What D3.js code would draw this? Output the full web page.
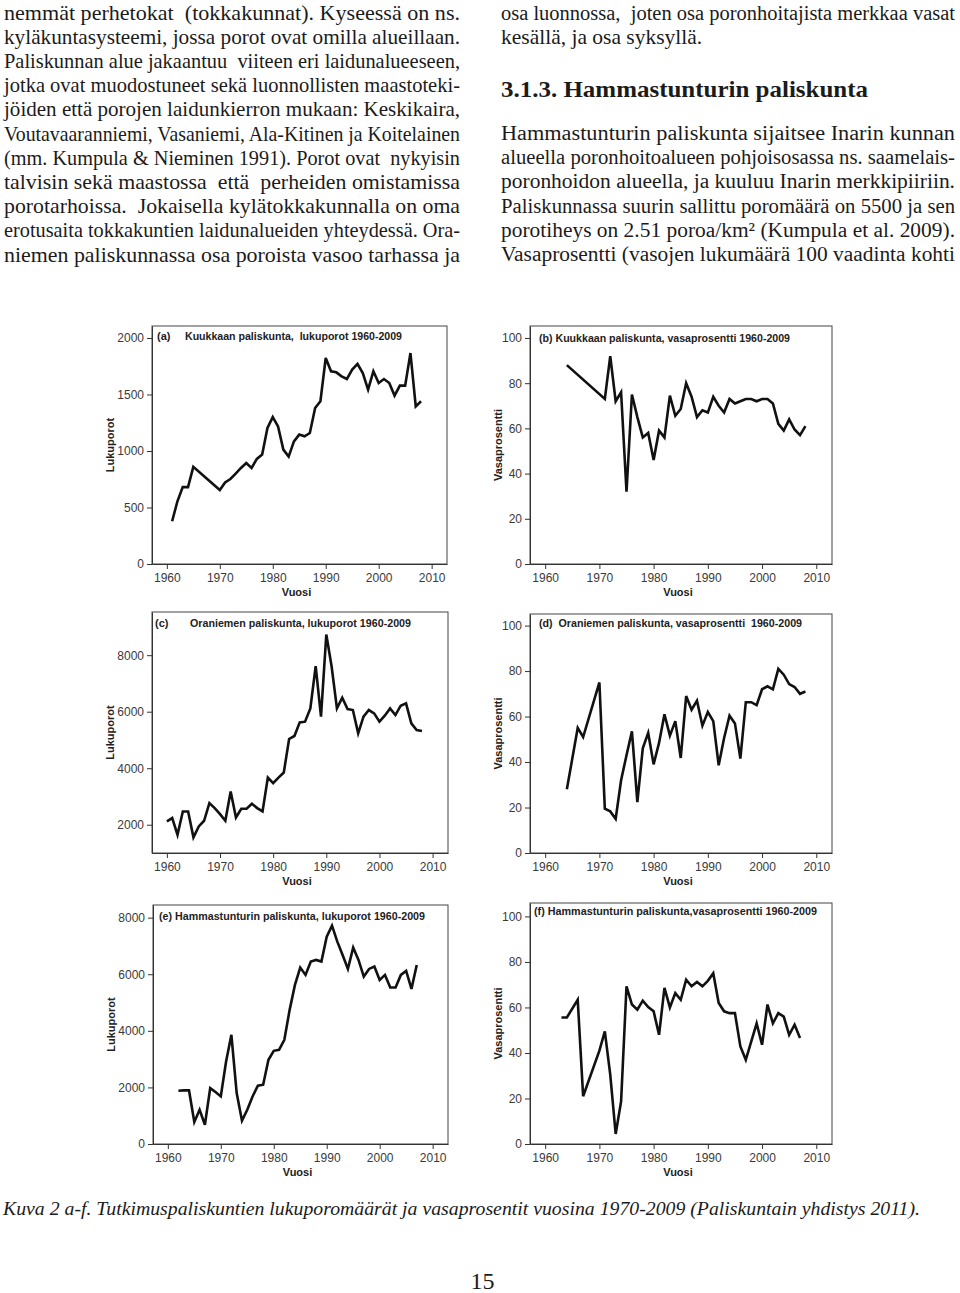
<!DOCTYPE html>
<html>
<head>
<meta charset="utf-8">
<script src="https://cdn.jsdelivr.net/npm/d3@7"></script>
<style>
  body { margin: 0; background: #fff; }
  svg { display: block; }
  .body-text { font-family: "Liberation Serif", "Times New Roman", serif; fill: #1b1b1b; white-space: pre; }
  .chart-text { font-family: "Liberation Sans", Arial, sans-serif; }
</style>
</head>
<body>
<svg id="page" width="960" height="1293"></svg>
<script>
// --- data ---
const yearsA = [1961,1962,1963,1964,1965,1970,1971,1972,1973,1974,1975,1976,1977,1978,1979,1980,1981,1982,1983,1984,1985,1986,1987,1988,1989,1990,1991,1992,1993,1994,1995,1996,1997,1998,1999,2000,2001,2002,2003,2004,2005,2006,2007,2008];
const lukuporotA = [378,555,680,680,860,655,722,752,800,850,894,850,930,968,1204,1300,1218,1012,950,1085,1145,1130,1159,1380,1440,1823,1705,1696,1661,1637,1720,1770,1690,1543,1705,1602,1637,1602,1490,1578,1578,1867,1395,1440];

const yearsB = [1964,1971,1972,1973,1974,1975,1976,1977,1978,1979,1980,1981,1982,1983,1984,1985,1986,1987,1988,1989,1990,1991,1992,1993,1994,1995,1996,1997,1998,1999,2000,2001,2002,2003,2004,2005,2006,2007,2008];
const vasaB = [88,73,92,72,76,32,75,65,56,58,46,59,56,74.5,65.6,68.6,80,74,65,68,67,74,70,67,73,71,72,73,73,72,73,73,71,62,59,64,59.5,57,61];

const yearsC = [1960,1961,1962,1963,1964,1965,1966,1967,1968,1969,1970,1971,1972,1973,1974,1975,1976,1977,1978,1979,1980,1981,1982,1983,1984,1985,1986,1987,1988,1989,1990,1991,1992,1993,1994,1995,1996,1997,1998,1999,2000,2001,2002,2003,2004,2005,2006,2007,2008];
const lukuporotC = [2118,2235,1647,2470,2470,1553,1941,2141,2765,2588,2376,2141,3176,2259,2565,2565,2741,2588,2470,3670,3470,3670,3847,5035,5141,5623,5647,6118,7612,5823,8729,7600,6118,6494,6094,6059,5235,5823,6059,5941,5647,5859,6118,5882,6212,6294,5588,5353,5318];

const yearsD = [1964,1966,1967,1970,1971,1972,1973,1974,1975,1976,1977,1978,1979,1980,1981,1982,1983,1984,1985,1986,1987,1988,1989,1990,1991,1992,1993,1994,1995,1996,1997,1998,1999,2000,2001,2002,2003,2004,2005,2006,2007,2008];
const vasaD = [28,55,51,75,19.5,18.3,15,32,43,53.5,22.4,46,52.8,39,48.4,61,51.6,58,41.8,69,63,67,56,62,58,38.6,50.6,60.4,57,41.5,66.3,66.3,65,72,73.3,72,81,78.4,74.3,73,70,71];

const yearsE = [1962,1963,1964,1965,1966,1967,1968,1969,1970,1971,1972,1973,1974,1975,1976,1977,1978,1979,1980,1981,1982,1983,1984,1985,1986,1987,1988,1989,1990,1991,1992,1993,1994,1995,1996,1997,1998,1999,2000,2001,2002,2003,2004,2005,2006,2007];
const lukuporotE = [1882,1894,1894,776,1212,682,1976,1835,1682,2918,3859,1800,824,1212,1682,2059,2094,2976,3294,3329,3682,4741,5624,6235,5976,6447,6506,6447,7329,7718,7153,6682,6188,6941,6506,5918,6188,6271,5800,5976,5529,5529,5976,6118,5482,6329];

const yearsF = [1963,1964,1966,1967,1970,1971,1972,1973,1974,1975,1976,1977,1978,1979,1980,1981,1982,1983,1984,1985,1986,1987,1988,1989,1990,1991,1992,1993,1994,1995,1996,1997,1998,1999,2000,2001,2002,2003,2004,2005,2006,2007];
const vasaF = [55.6,55.6,63.4,21,41,49.5,30.5,4.4,18.7,69.3,61.3,59,63,60.2,58.3,48,68.6,60,66.3,63.4,72.2,69.3,71.2,69.3,71.7,75,62,58.3,57.5,57.5,42.9,37,45,53,43.6,61.3,53,57.5,56,48,52.4,46.6];

const xTicks = [1960, 1970, 1980, 1990, 2000, 2010];
const yTicksKuukkaa = [0, 500, 1000, 1500, 2000];
const yTicksOraniemi = [2000, 4000, 6000, 8000];
const yTicksHammas = [0, 2000, 4000, 6000, 8000];
const yTicksPct = [0, 20, 40, 60, 80, 100];

const leftLines = [
  "nemmät perhetokat  (tokkakunnat). Kyseessä on ns.",
  "kyläkuntasysteemi, jossa porot ovat omilla alueillaan.",
  "Paliskunnan alue jakaantuu  viiteen eri laidunalueeseen,",
  "jotka ovat muodostuneet sekä luonnollisten maastoteki-",
  "jöiden että porojen laidunkierron mukaan: Keskikaira,",
  "Voutavaaranniemi, Vasaniemi, Ala-Kitinen ja Koitelainen",
  "(mm. Kumpula & Nieminen 1991). Porot ovat  nykyisin",
  "talvisin sekä maastossa  että  perheiden omistamissa",
  "porotarhoissa.  Jokaisella kylätokkakunnalla on oma",
  "erotusaita tokkakuntien laidunalueiden yhteydessä. Ora-",
  "niemen paliskunnassa osa poroista vasoo tarhassa ja"
];
const rightTop = [
  "osa luonnossa,  joten osa poronhoitajista merkkaa vasat",
  "kesällä, ja osa syksyllä."
];
const heading = "3.1.3. Hammastunturin paliskunta";
const rightLines = [
  "Hammastunturin paliskunta sijaitsee Inarin kunnan",
  "alueella poronhoitoalueen pohjoisosassa ns. saamelais-",
  "poronhoidon alueella, ja kuuluu Inarin merkkipiiriin.",
  "Paliskunnassa suurin sallittu poromäärä on 5500 ja sen",
  "porotiheys on 2.51 poroa/km² (Kumpula et al. 2009).",
  "Vasaprosentti (vasojen lukumäärä 100 vaadinta kohti"
];
const caption = "Kuva 2 a-f. Tutkimuspaliskuntien lukuporomäärät ja vasaprosentit vuosina 1970-2009 (Paliskuntain yhdistys 2011).";
const pageNumber = "15";

// --- layout ---
const svg = d3.select('#page');

// body text, justified with textLength
function textLine(str, x, y, width, size, extra) {
  const t = svg.append('text')
    .attr('class', 'body-text')
    .attr('x', x)
    .attr('y', y)
    .style('font-size', size + 'px')
    .text(str);
  if (width) t.attr('textLength', width).attr('lengthAdjust', 'spacingAndGlyphs');
  if (extra) extra(t);
  return t;
}

leftLines.forEach((s, i) => textLine(s, 4, 19.5 + i * 24.2, 456, 21));
textLine(rightTop[0], 501, 19.5, 454, 20.5);
textLine(rightTop[1], 501, 43.5, null, 21.5);
textLine(heading, 501, 97, 367, 23.5, t => t.style('font-weight', 'bold'));
rightLines.forEach((s, i) => textLine(s, 501, 140 + i * 24.2, 454, 20.5));
textLine(caption, 3, 1215, 917, 19.5, t => t.style('font-style', 'italic'));
textLine(pageNumber, 482.5, 1289, null, 24, t => t.attr('text-anchor', 'middle'));

// --- charts ---
const panels = [
  {years: yearsA, values: lukuporotA, yTicks: yTicksKuukkaa, yLabel: 'Lukuporot',
   left: 152, right: 447, top: 326, bottom: 564, yDomain: [0, 2106],
   tag: '(a)', tagX: 157, title: 'Kuukkaan paliskunta,  lukuporot 1960-2009', titleX: 185, titleW: 217, titleY: 340, yLabX: 114},
  {years: yearsB, values: vasaB, yTicks: yTicksPct, yLabel: 'Vasaprosentti',
   left: 530, right: 832, top: 326, bottom: 564, yDomain: [0, 105.3],
   title: '(b) Kuukkaan paliskunta, vasaprosentti 1960-2009', titleX: 539, titleW: 251, titleY: 342, yLabX: 502},
  {years: yearsC, values: lukuporotC, yTicks: yTicksOraniemi, yLabel: 'Lukuporot',
   left: 152, right: 448, top: 612, bottom: 853, yDomain: [1000, 9528],
   tag: '(c)', tagX: 155, title: 'Oraniemen paliskunta, lukuporot 1960-2009', titleX: 190, titleW: 221, titleY: 627, yLabX: 114},
  {years: yearsD, values: vasaD, yTicks: yTicksPct, yLabel: 'Vasaprosentti',
   left: 530, right: 832, top: 614, bottom: 853, yDomain: [0, 105.1],
   title: '(d)  Oraniemen paliskunta, vasaprosentti  1960-2009', titleX: 539, titleW: 263, titleY: 627, yLabX: 502},
  {years: yearsE, values: lukuporotE, yTicks: yTicksHammas, yLabel: 'Lukuporot',
   left: 153, right: 448, top: 905, bottom: 1144, yDomain: [0, 8447],
   title: '(e) Hammastunturin paliskunta, lukuporot 1960-2009', titleX: 159, titleW: 266, titleY: 920, yLabX: 115},
  {years: yearsF, values: vasaF, yTicks: yTicksPct, yLabel: 'Vasaprosentti',
   left: 530, right: 832, top: 903, bottom: 1144, yDomain: [0, 105.9],
   title: '(f) Hammastunturin paliskunta,vasaprosentti 1960-2009', titleX: 534, titleW: 283, titleY: 915, yLabX: 502}
];

panels.forEach(p => {
  const x = d3.scaleLinear().domain([1957.2, 2012.9]).range([p.left, p.right]);
  const y = d3.scaleLinear().domain(p.yDomain).range([p.bottom, p.top]);
  const g = svg.append('g').attr('class', 'chart-text');

  g.append('rect')
    .attr('x', p.left).attr('y', p.top)
    .attr('width', p.right - p.left).attr('height', p.bottom - p.top)
    .attr('fill', 'none').attr('stroke', '#444').attr('stroke-width', 1);

  const yAxis = g.append('g')
    .attr('transform', `translate(${p.left},0)`)
    .call(d3.axisLeft(y).tickValues(p.yTicks).tickFormat(d3.format('d')).tickSize(5).tickPadding(3).tickSizeOuter(0));
  const xAxis = g.append('g')
    .attr('transform', `translate(0,${p.bottom})`)
    .call(d3.axisBottom(x).tickValues(xTicks).tickFormat(d3.format('d')).tickSize(5).tickPadding(4).tickSizeOuter(0));
  [yAxis, xAxis].forEach(a => {
    a.select('.domain').attr('stroke', '#333');
    a.selectAll('.tick line').attr('stroke', '#333');
    a.selectAll('.tick text')
      .attr('fill', '#3a3a3a')
      .style('font-family', '"Liberation Sans", Arial, sans-serif')
      .style('font-size', '12px');
  });

  const pts = p.years.map((yr, i) => ({year: yr, value: p.values[i]}));
  g.append('path')
    .datum(pts)
    .attr('fill', 'none')
    .attr('stroke', '#111')
    .attr('stroke-width', 2.6)
    .attr('stroke-linejoin', 'miter')
    .attr('d', d3.line().x(d => x(d.year)).y(d => y(d.value)));

  if (p.tag) {
    g.append('text').attr('x', p.tagX).attr('y', p.titleY)
      .style('font-size', '11px').style('font-weight', 'bold').attr('fill', '#222')
      .text(p.tag);
  }
  g.append('text').attr('x', p.titleX).attr('y', p.titleY)
    .style('font-size', '11px').style('font-weight', 'bold').attr('fill', '#222')
    .style('white-space', 'pre')
    .attr('textLength', p.titleW).attr('lengthAdjust', 'spacingAndGlyphs')
    .text(p.title);

  g.append('text')
    .attr('x', (p.left + p.right) / 2 - 3)
    .attr('y', p.bottom + 32)
    .attr('text-anchor', 'middle')
    .style('font-size', '11px').style('font-weight', 'bold').attr('fill', '#222')
    .text('Vuosi');

  g.append('text')
    .attr('transform', `translate(${p.yLabX},${(p.top + p.bottom) / 2}) rotate(-90)`)
    .attr('text-anchor', 'middle')
    .style('font-size', '11px').style('font-weight', 'bold').attr('fill', '#222')
    .text(p.yLabel);
});
</script>
</body>
</html>
